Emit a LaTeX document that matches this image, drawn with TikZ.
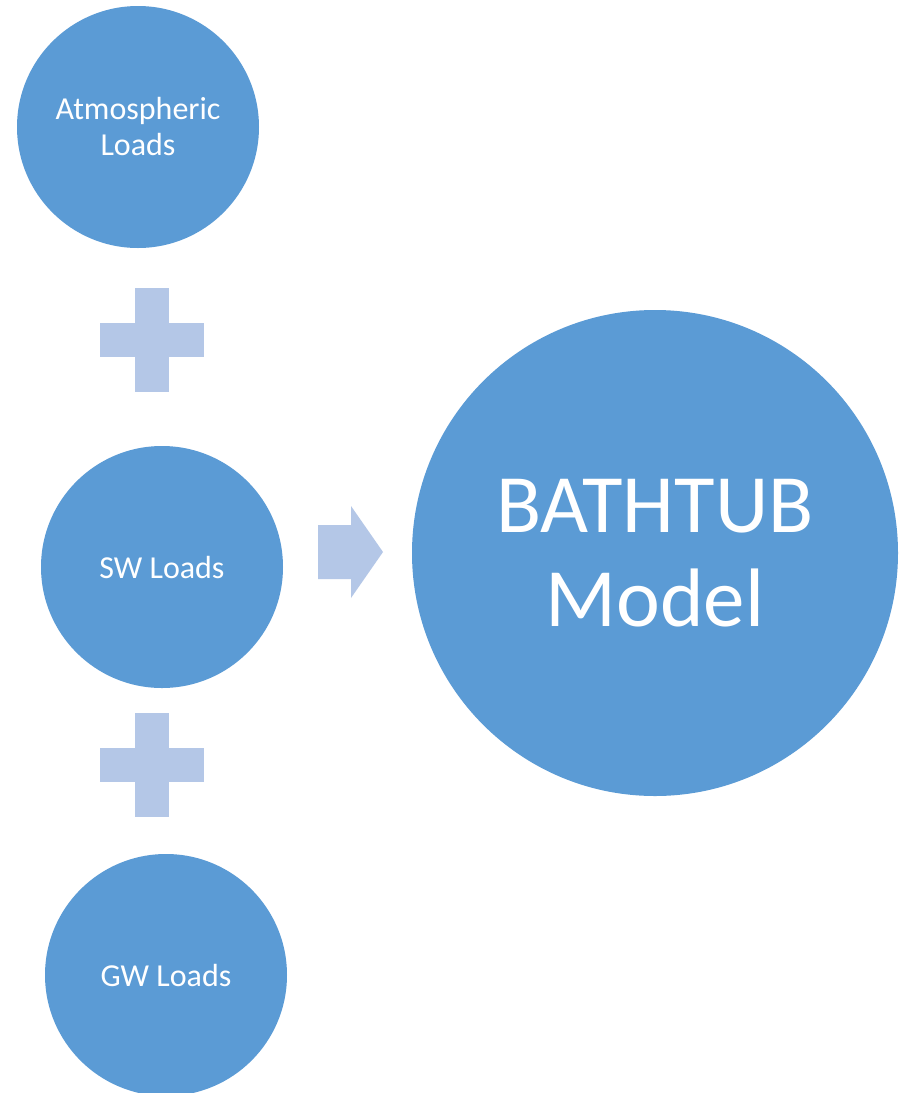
\documentclass[tikz,border=0pt]{standalone}
\usepackage{fontspec}
\setmainfont{Carlito}
\definecolor{loadblue}{HTML}{5B9BD5}
\definecolor{paleblue}{HTML}{B4C7E7}
\begin{document}
\begin{tikzpicture}[x=1pt,y=-1pt,
  loadcircle/.style={circle,fill=loadblue,draw=none,inner sep=0pt,
    minimum size=242pt,text=white,align=center,
    font=\fontsize{32}{36}\selectfont},
  bigcircle/.style={loadcircle,minimum size=486pt,
    font=\fontsize{83}{94}\selectfont},
  plusbar/.style={fill=paleblue,draw=none}]
\useasboundingbox (0,0) rectangle (901,1093);
\fill[white] (0,0) rectangle (901,1093);

% input loads and the model
\node[loadcircle] (atm) at (138,127) {Atmospheric\\Loads};
\node[loadcircle] (sw) at (162,567) {SW Loads};
\node[loadcircle] (gw) at (166,975) {GW Loads};
\node[bigcircle] (model) at (655,553) {BATHTUB\\Model};

% plus signs between the loads
\coordinate (plusA) at (152,340);
\coordinate (plusB) at (152,765);
\foreach \p in {plusA,plusB}{
  \fill[plusbar] ([shift={(-52,-17)}]\p) rectangle ([shift={(52,17)}]\p);
  \fill[plusbar] ([shift={(-17,-52)}]\p) rectangle ([shift={(17,52)}]\p);
}

% arrow into the model
\coordinate (arr) at (318,552);
\fill[paleblue] ([shift={(0,-27)}]arr) -- ([shift={(33,-27)}]arr)
  -- ([shift={(33,-46)}]arr) -- ([shift={(65,0)}]arr)
  -- ([shift={(33,46)}]arr) -- ([shift={(33,27)}]arr)
  -- ([shift={(0,27)}]arr) -- cycle;
\end{tikzpicture}
\end{document}
